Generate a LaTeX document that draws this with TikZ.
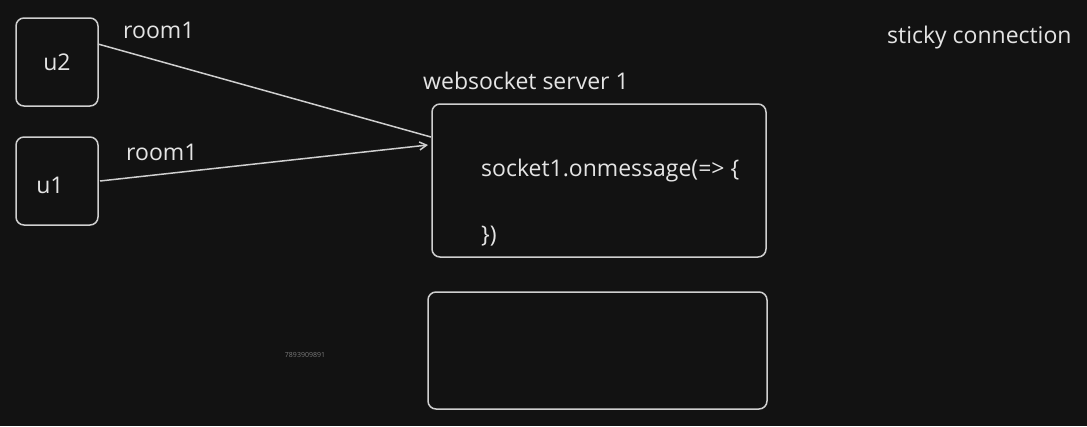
\documentclass[tikz,border=0pt]{standalone}
\usepackage{fontspec}
\setmainfont{Open Sans}
\usetikzlibrary{arrows.meta}
\definecolor{bg}{HTML}{121212}
\definecolor{ln}{HTML}{CFCFCF}
\definecolor{tx}{HTML}{E4E4E4}
\definecolor{faint}{HTML}{7A7A7A}
\begin{document}
\begin{tikzpicture}[x=1pt,y=-1pt,
  box/.style={draw=ln, line width=1.5pt, rounded corners=8pt},
  lbl/.style={text=tx, font=\fontsize{23}{27}\selectfont, inner sep=0pt},
  conn/.style={draw=ln, line width=1.5pt}]
\fill[bg] (0,0) rectangle (1087,426);
\useasboundingbox (0,0) rectangle (1087,426);
% boxes
\draw[box] (16,18) rectangle (98,106);
\coordinate (u2ne) at (98,44);
\draw[box] (16,137) rectangle (98,225);
\coordinate (u1e) at (100,181);
\draw[box] (432,104) rectangle (766,257);
\coordinate (s1a) at (431,137);
\coordinate (s1b) at (428,145);
\draw[box] (428,292) rectangle (767,409);
% node labels
\node[lbl] (u2) at (57,62) {u2};
\node[lbl] (u1) at (50,185) {u1};
\node[lbl, anchor=west] (r2) at (123,30) {room1};
\node[lbl, anchor=west] (r1) at (126,152) {room1};
\node[lbl, anchor=west] (ws) at (423,81) {websocket server 1};
\node[lbl, anchor=west] (code1) at (481,171) {socket1.onmessage(=> \{};
\node[lbl, anchor=west] (code2) at (481,236) {\})};
\node[lbl, anchor=west] (sticky) at (887,38) {sticky connection};
\node[text=faint, font=\fontsize{7}{8}\selectfont, inner sep=0pt] (num) at (305,355) {7893909891};
% connectors
\draw[conn] (u2ne) -- (s1a);
\draw[conn, -{Straight Barb[length=7pt,width=8pt]}] (u1e) -- (s1b);
\end{tikzpicture}
\end{document}
